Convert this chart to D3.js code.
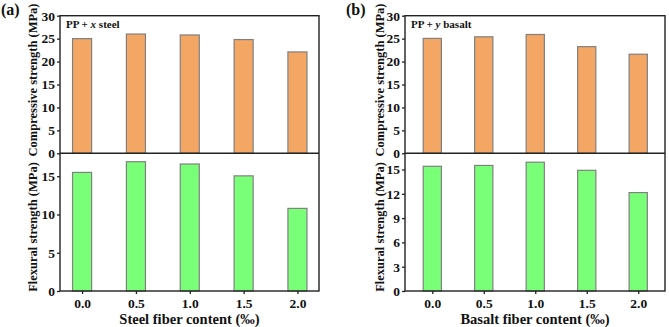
<!DOCTYPE html>
<html>
<meta charset="utf-8">
<style>
    body { margin: 0; background: #fff; }
    svg text { font-family: 'Liberation Serif', 'Times New Roman', serif; font-weight: bold; fill: #111; }
</style>

<body>
    <svg id="chart" width="669" height="327"></svg>
    <script src="https://d3js.org/d3.v7.min.js"></script>
    <script>
        const fiberContent = [0.0, 0.5, 1.0, 1.5, 2.0];

        const steelCompressive = [25.0, 26.0, 25.8, 24.8, 22.1];
        const steelFlexural = [15.5, 16.9, 16.6, 15.05, 10.8];

        const basaltCompressive = [25.05, 25.4, 25.9, 23.25, 21.6];
        const basaltFlexural = [15.4, 15.5, 15.9, 14.9, 12.15];

        const compTicks = [0, 5, 10, 15, 20, 25, 30];
        const steelFlexTicks = [0, 5, 10, 15];
        const basaltFlexTicks = [0, 3, 6, 9, 12, 15];

        const chart = d3.select("#chart");

        const orange = "#f4a665";
        const green = "#7aff78";
        const barStroke = "#808080";
        const frame = "#222";

        const top0 = 15.7, mid = 153.3, bottom0 = 291;

        function drawPanel(p) {
            const g = chart.append("g");

            const x = d3.scaleLinear().domain(p.xDomain).range([p.left, p.right]);
            const barW = x(0.177) - x(0);

            const yc = d3.scaleLinear().domain([0, 30]).range([mid, top0]);
            const yf = d3.scaleLinear().domain([0, p.flexMax]).range([bottom0, mid]);

            // compressive bars
            g.append("g").selectAll("rect")
                .data(p.comp)
                .join("rect")
                .attr("x", (d, i) => x(fiberContent[i]) - barW / 2)
                .attr("y", d => yc(d))
                .attr("width", barW)
                .attr("height", d => yc(0) - yc(d))
                .attr("fill", orange)
                .attr("stroke", barStroke)
                .attr("stroke-width", 1.2);

            // flexural bars
            g.append("g").selectAll("rect")
                .data(p.flex)
                .join("rect")
                .attr("x", (d, i) => x(fiberContent[i]) - barW / 2)
                .attr("y", d => yf(d))
                .attr("width", barW)
                .attr("height", d => yf(0) - yf(d))
                .attr("fill", green)
                .attr("stroke", barStroke)
                .attr("stroke-width", 1.2);

            // axes
            const yAxisC = g.append("g")
                .attr("transform", "translate(" + p.left + ",0)")
                .call(d3.axisLeft(yc).tickValues(compTicks).tickSize(3).tickPadding(2).tickFormat(d3.format("d")));
            const yAxisF = g.append("g")
                .attr("transform", "translate(" + p.left + ",0)")
                .call(d3.axisLeft(yf).tickValues(p.flexTicks).tickSize(3).tickPadding(2).tickFormat(d3.format("d")));
            const xAxis = g.append("g")
                .attr("transform", "translate(0," + bottom0 + ")")
                .call(d3.axisBottom(x).tickValues(fiberContent).tickSize(3).tickPadding(4).tickFormat(d3.format(".1f")));

            [yAxisC, yAxisF, xAxis].forEach(a => {
                a.select(".domain").remove();
                a.selectAll(".tick line").attr("stroke", frame).attr("stroke-width", 1.3);
                a.selectAll(".tick text")
                    .style("font-family", "'Liberation Serif', serif")
                    .style("font-weight", "bold")
                    .style("font-size", "13.5px")
                    .attr("fill", "#111");
            });

            // frames
            g.append("rect")
                .attr("x", p.left).attr("y", top0)
                .attr("width", p.right - p.left).attr("height", bottom0 - top0)
                .attr("fill", "none").attr("stroke", frame).attr("stroke-width", 1.4);
            g.append("line")
                .attr("x1", p.left).attr("x2", p.right)
                .attr("y1", mid).attr("y2", mid)
                .attr("stroke", frame).attr("stroke-width", 1.4);

            // labels
            g.append("text")
                .attr("x", p.labelX).attr("y", 15)
                .style("font-size", "16px")
                .text(p.label);

            g.append("text")
                .attr("x", p.left + 6).attr("y", 28)
                .style("font-size", "11px")
                .html(p.note);

            g.append("text")
                .attr("transform", "translate(" + p.titleX + ",80)rotate(-90)")
                .attr("text-anchor", "middle")
                .style("font-size", "12.5px")
                .text("Compressive strength (MPa)");

            g.append("text")
                .attr("transform", "translate(" + p.titleX + ",227)rotate(-90)")
                .attr("text-anchor", "middle")
                .style("font-size", "12.5px")
                .text("Flexural strength (MPa)");

            g.append("text")
                .attr("x", (p.left + p.right) / 2).attr("y", 324)
                .attr("text-anchor", "middle")
                .style("font-size", "14.5px")
                .text(p.xTitle);
        }

        drawPanel({
            left: 60, right: 319, xDomain: [-0.205, 2.2],
            comp: steelCompressive, flex: steelFlexural,
            flexMax: 18, flexTicks: steelFlexTicks,
            label: "(a)", labelX: 1, titleX: 37,
            note: "PP + <tspan font-style='italic'>x</tspan> steel",
            xTitle: "Steel fiber content (‰)"
        });

        drawPanel({
            left: 405, right: 665, xDomain: [-0.265, 2.26],
            comp: basaltCompressive, flex: basaltFlexural,
            flexMax: 17, flexTicks: basaltFlexTicks,
            label: "(b)", labelX: 346, titleX: 384,
            note: "PP + <tspan font-style='italic'>y</tspan> basalt",
            xTitle: "Basalt fiber content (‰)"
        });
    </script>
</body>

</html>
